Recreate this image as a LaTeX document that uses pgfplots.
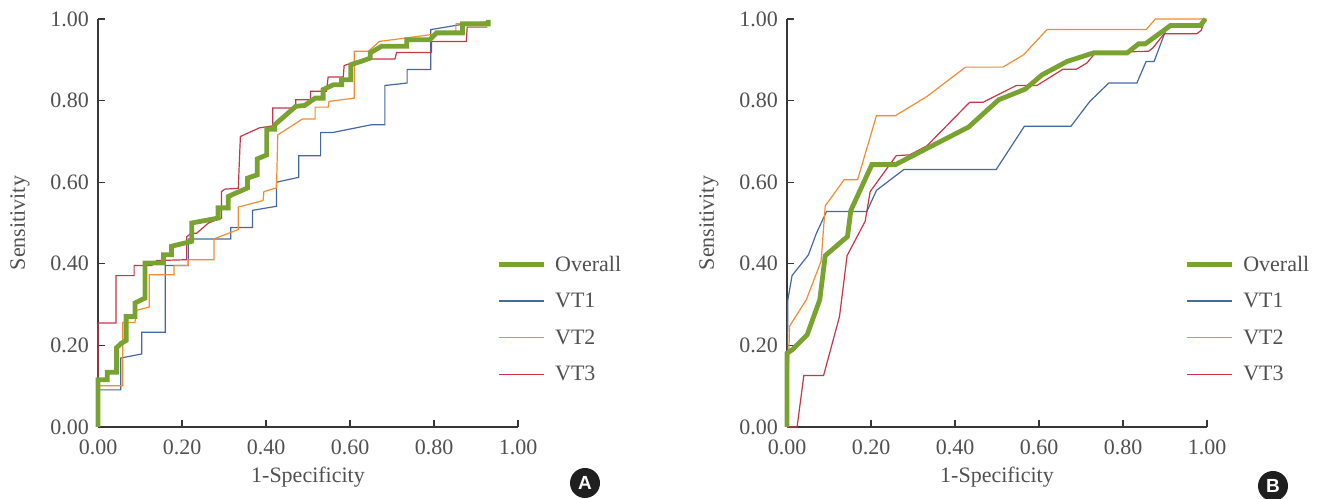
\documentclass[border=0pt]{standalone}
\usepackage{pgfplots}
\pgfplotsset{compat=1.18}
\usepackage{fontspec}
\setmainfont{Liberation Serif}
\newfontfamily\badgefont{Liberation Sans}
\definecolor{cgreen}{RGB}{120,163,48}
\definecolor{cblue}{RGB}{68,104,160}
\definecolor{corange}{RGB}{240,140,50}
\definecolor{cred}{RGB}{200,52,72}
\definecolor{ctext}{RGB}{80,80,80}
\definecolor{caxis}{RGB}{55,55,55}
\newcommand{\fs}{\fontsize{22bp}{26bp}\selectfont}
\pgfplotsset{
  rocaxis/.style={
    scale only axis, width=420bp, height=408bp,
    anchor=south west,
    xmin=0, xmax=1, ymin=0, ymax=1,
    clip=false,
    axis x line=bottom, axis y line=left,
    axis line style={-, caxis, line width=1.3bp},
    tick align=inside, major tick length=7bp,
    tick style={caxis, line width=1.1bp},
    xtick={0,0.2,0.4,0.6,0.8,1},
    ytick={0,0.2,0.4,0.6,0.8,1},
    xticklabels={0.00,0.20,0.40,0.60,0.80,1.00},
    yticklabels={0.00,0.20,0.40,0.60,0.80,1.00},
    ticklabel style={font=\fs, text=ctext},
    xticklabel style={anchor=base, yshift=-28bp},
    yticklabel style={anchor=east, inner sep=0pt, xshift=-9bp},
    xlabel={1-Specificity}, ylabel={Sensitivity},
    label style={font=\fs, text=ctext},
    xlabel style={at={(axis description cs:0.5,0)}, anchor=base, yshift=-56bp},
    ylabel style={at={(axis description cs:0,0.5)}, anchor=center, yshift=78bp},
    legend style={draw=none, fill=none, font=\fs, text=ctext, anchor=north west,
      row sep=16.5bp, column sep=7bp, inner sep=0pt},
    legend cell align=left,
    legend image code/.code={\draw[##1] (0bp,0bp) -- (45bp,0bp);},
  },
  ov/.style={cgreen, line width=4.8bp},
  v1/.style={cblue, line width=1.2bp},
  v2/.style={corange, line width=1.2bp},
  v3/.style={cred, line width=1.2bp},
}
\begin{document}
\begin{tikzpicture}[x=1bp,y=1bp]
\useasboundingbox (0,0) rectangle (1319,499);
% Panel A
\begin{axis}[rocaxis, at={(98bp,72bp)},
  legend style={at={(axis description cs:0.948,0.425)}}]
\addlegendimage{ov}\addlegendentry{Overall}
\addlegendimage{v1}\addlegendentry{VT1}
\addlegendimage{v2}\addlegendentry{VT2}
\addlegendimage{v3}\addlegendentry{VT3}
\addplot[v1, forget plot] coordinates {(0,0) (0,0.091) (0.054,0.091) (0.054,0.169) (0.104,0.179) (0.104,0.232) (0.160,0.232) (0.160,0.396) (0.215,0.396) (0.215,0.461) (0.316,0.461) (0.316,0.489) (0.368,0.489) (0.368,0.531) (0.425,0.541) (0.425,0.600) (0.478,0.612) (0.478,0.665) (0.530,0.665) (0.530,0.722) (0.560,0.722) (0.652,0.741) (0.683,0.741) (0.683,0.837) (0.736,0.843) (0.736,0.876) (0.792,0.876) (0.792,0.974) (0.862,0.986) (0.929,0.988)};
\addplot[v2, forget plot] coordinates {(0,0) (0,0.101) (0.059,0.101) (0.059,0.256) (0.088,0.256) (0.092,0.286) (0.122,0.294) (0.122,0.373) (0.181,0.373) (0.181,0.396) (0.215,0.396) (0.215,0.410) (0.276,0.410) (0.276,0.461) (0.334,0.484) (0.334,0.539) (0.393,0.555) (0.395,0.577) (0.425,0.586) (0.428,0.716) (0.487,0.755) (0.517,0.755) (0.517,0.784) (0.548,0.784) (0.550,0.798) (0.610,0.806) (0.610,0.921) (0.644,0.921) (0.670,0.945) (0.759,0.957) (0.852,0.970) (0.852,0.988) (0.929,0.993)};
\addplot[v3, forget plot] coordinates {(0,0) (0,0.255) (0.043,0.255) (0.043,0.371) (0.086,0.371) (0.086,0.396) (0.128,0.396) (0.140,0.408) (0.211,0.410) (0.211,0.466) (0.222,0.475) (0.235,0.475) (0.263,0.500) (0.294,0.512) (0.294,0.577) (0.302,0.583) (0.334,0.585) (0.339,0.712) (0.384,0.733) (0.416,0.738) (0.416,0.782) (0.471,0.782) (0.471,0.802) (0.506,0.802) (0.506,0.823) (0.544,0.823) (0.548,0.858) (0.584,0.858) (0.586,0.886) (0.636,0.902) (0.707,0.902) (0.711,0.918) (0.794,0.918) (0.794,0.945) (0.877,0.945) (0.879,0.980) (0.927,0.980)};
\addplot[ov, forget plot] coordinates {(0,0) (0,0.116) (0.022,0.116) (0.022,0.134) (0.044,0.134) (0.044,0.194) (0.055,0.205) (0.067,0.212) (0.067,0.271) (0.088,0.271) (0.088,0.304) (0.112,0.316) (0.112,0.402) (0.156,0.402) (0.156,0.422) (0.175,0.422) (0.175,0.443) (0.223,0.455) (0.223,0.500) (0.286,0.512) (0.286,0.537) (0.310,0.537) (0.310,0.565) (0.356,0.586) (0.356,0.610) (0.379,0.618) (0.379,0.657) (0.402,0.667) (0.402,0.730) (0.421,0.730) (0.421,0.741) (0.471,0.786) (0.492,0.788) (0.517,0.806) (0.536,0.806) (0.536,0.827) (0.561,0.839) (0.580,0.839) (0.580,0.851) (0.602,0.851) (0.602,0.888) (0.626,0.896) (0.648,0.904) (0.648,0.917) (0.675,0.933) (0.735,0.933) (0.735,0.949) (0.790,0.949) (0.806,0.966) (0.868,0.966) (0.868,0.988) (0.929,0.988) (0.929,0.998)};
\end{axis}
% Panel B
\begin{axis}[rocaxis, at={(787bp,72bp)},
  legend style={at={(axis description cs:0.946,0.425)}}]
\addlegendimage{ov}\addlegendentry{Overall}
\addlegendimage{v1}\addlegendentry{VT1}
\addlegendimage{v2}\addlegendentry{VT2}
\addlegendimage{v3}\addlegendentry{VT3}
\addplot[v1, forget plot] coordinates {(0,0) (0.002,0.312) (0.012,0.371) (0.051,0.422) (0.070,0.475) (0.094,0.528) (0.190,0.528) (0.213,0.580) (0.278,0.631) (0.498,0.631) (0.565,0.737) (0.676,0.737) (0.721,0.798) (0.766,0.843) (0.833,0.843) (0.855,0.896) (0.874,0.896) (0.906,0.984) (0.984,0.984) (0.996,1.0)};
\addplot[v2, forget plot] coordinates {(0,0) (0.006,0.247) (0.046,0.312) (0.081,0.406) (0.091,0.542) (0.136,0.606) (0.168,0.606) (0.213,0.763) (0.258,0.763) (0.333,0.810) (0.425,0.882) (0.514,0.882) (0.563,0.912) (0.619,0.974) (0.855,0.974) (0.877,1.0) (1.0,1.0)};
\addplot[v3, forget plot] coordinates {(0,0) (0.024,0) (0.040,0.126) (0.087,0.126) (0.125,0.271) (0.143,0.420) (0.186,0.504) (0.198,0.577) (0.260,0.665) (0.292,0.667) (0.333,0.689) (0.435,0.796) (0.467,0.796) (0.546,0.837) (0.595,0.837) (0.657,0.877) (0.689,0.877) (0.714,0.892) (0.734,0.917) (0.861,0.921) (0.871,0.929) (0.898,0.964) (0.976,0.964) (0.986,0.972) (0.996,1.0)};
\addplot[ov, forget plot] coordinates {(0,0) (0,0.181) (0.012,0.189) (0.048,0.226) (0.078,0.312) (0.091,0.420) (0.144,0.467) (0.152,0.531) (0.202,0.643) (0.258,0.643) (0.432,0.735) (0.504,0.802) (0.567,0.828) (0.607,0.863) (0.667,0.896) (0.730,0.917) (0.810,0.917) (0.837,0.939) (0.853,0.939) (0.913,0.984) (0.984,0.984) (0.996,1.0)};
\end{axis}
% panel badges
\node[circle, fill=black!88, minimum size=30bp, inner sep=0pt, text=white, font=\badgefont\bfseries\fontsize{19bp}{19bp}\selectfont] at (585,16) {A};
\node[circle, fill=black!88, minimum size=30bp, inner sep=0pt, text=white, font=\badgefont\bfseries\fontsize{19bp}{19bp}\selectfont] at (1273,13) {B};
\end{tikzpicture}
\end{document}
